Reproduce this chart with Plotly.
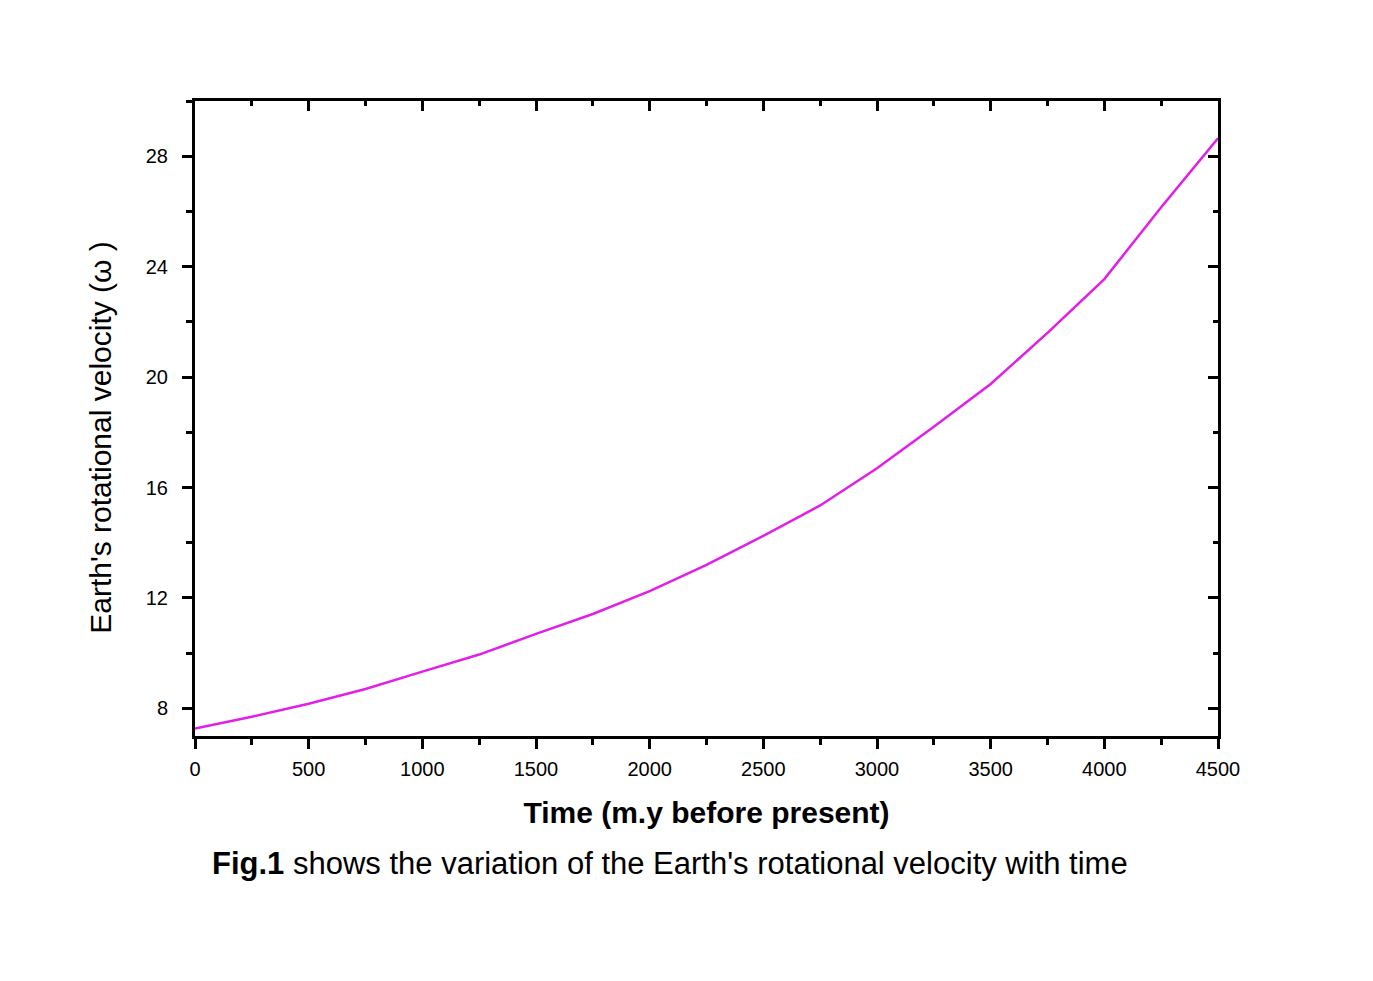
import plotly.graph_objects as go

# time in million years before present, and rotational velocity
time_my = [0, 250, 500, 750, 1000, 1250, 1500, 1750, 2000, 2250,
           2500, 2750, 3000, 3250, 3500, 3750, 4000, 4250, 4500]
omega = [7.27, 7.70, 8.17, 8.70, 9.33, 9.95, 10.70, 11.42, 12.25, 13.20,
         14.25, 15.35, 16.70, 18.20, 19.75, 21.60, 23.55, 26.15, 28.65]

x_range = [0, 4500]
y_range = [7, 30]
font = "Liberation Sans, Arial, sans-serif"


def main():
    fig = go.Figure()
    fig.add_trace(go.Scatter(x=time_my, y=omega, mode="lines",
                             line=dict(color="#e21fe6", width=2.5),
                             showlegend=False, hoverinfo="x+y"))
    # empty trace so the top / right axes with inward ticks get drawn
    fig.add_trace(go.Scatter(x=[None], y=[None], xaxis="x2", yaxis="y2",
                             showlegend=False, hoverinfo="skip"))

    axis_common = dict(showgrid=False, zeroline=False, linecolor="black",
                       linewidth=3, tickcolor="black", tickwidth=2.5)

    fig.update_layout(
        width=1373, height=981,
        margin=dict(l=187, r=163, t=93, b=253),
        paper_bgcolor="white", plot_bgcolor="white",
        font=dict(family=font, color="black"),
        xaxis=dict(range=x_range, dtick=500, tick0=0, ticks="outside", ticklen=10,
                   minor=dict(dtick=250, ticks="outside", ticklen=6,
                              tickcolor="black", tickwidth=2.5),
                   tickfont=dict(size=20), ticklabelstandoff=3,
                   title=dict(text="<b>Time (m.y before present)</b>",
                              font=dict(size=30), standoff=23),
                   **axis_common),
        yaxis=dict(range=y_range, dtick=4, tick0=0, ticks="outside", ticklen=10,
                   minor=dict(dtick=2, ticks="outside", ticklen=6,
                              tickcolor="black", tickwidth=2.5),
                   tickfont=dict(size=20), ticklabelstandoff=10,
                   **axis_common),
        xaxis2=dict(range=x_range, overlaying="x", side="top", dtick=500, tick0=0,
                    ticks="inside", ticklen=10, showticklabels=False,
                    minor=dict(dtick=250, ticks="inside", ticklen=5,
                               tickcolor="black", tickwidth=2.5),
                    anchor="y2", **axis_common),
        yaxis2=dict(range=y_range, overlaying="y", side="right", dtick=4, tick0=0,
                    ticks="inside", ticklen=10, showticklabels=False,
                    minor=dict(dtick=2, ticks="inside", ticklen=5,
                               tickcolor="black", tickwidth=2.5),
                    anchor="x2", **axis_common),
    )

    # y axis title placed as an annotation so it sits where the original does
    fig.add_annotation(
        text="Earth's rotational velocity (ω )",
        xref="paper", yref="paper", x=-0.092, y=0.471, textangle=-90,
        xanchor="center", yanchor="middle", showarrow=False,
        font=dict(size=30, family=font, color="black"))

    fig.add_annotation(
        text="<b>Fig.1</b> shows the variation of the Earth's rotational velocity with time",
        xref="paper", yref="paper", x=0.464, y=-0.201,
        xanchor="center", yanchor="middle", showarrow=False,
        font=dict(size=31, family=font, color="black"))

    fig.write_html("out.html")


if __name__ == "__main__":
    main()
